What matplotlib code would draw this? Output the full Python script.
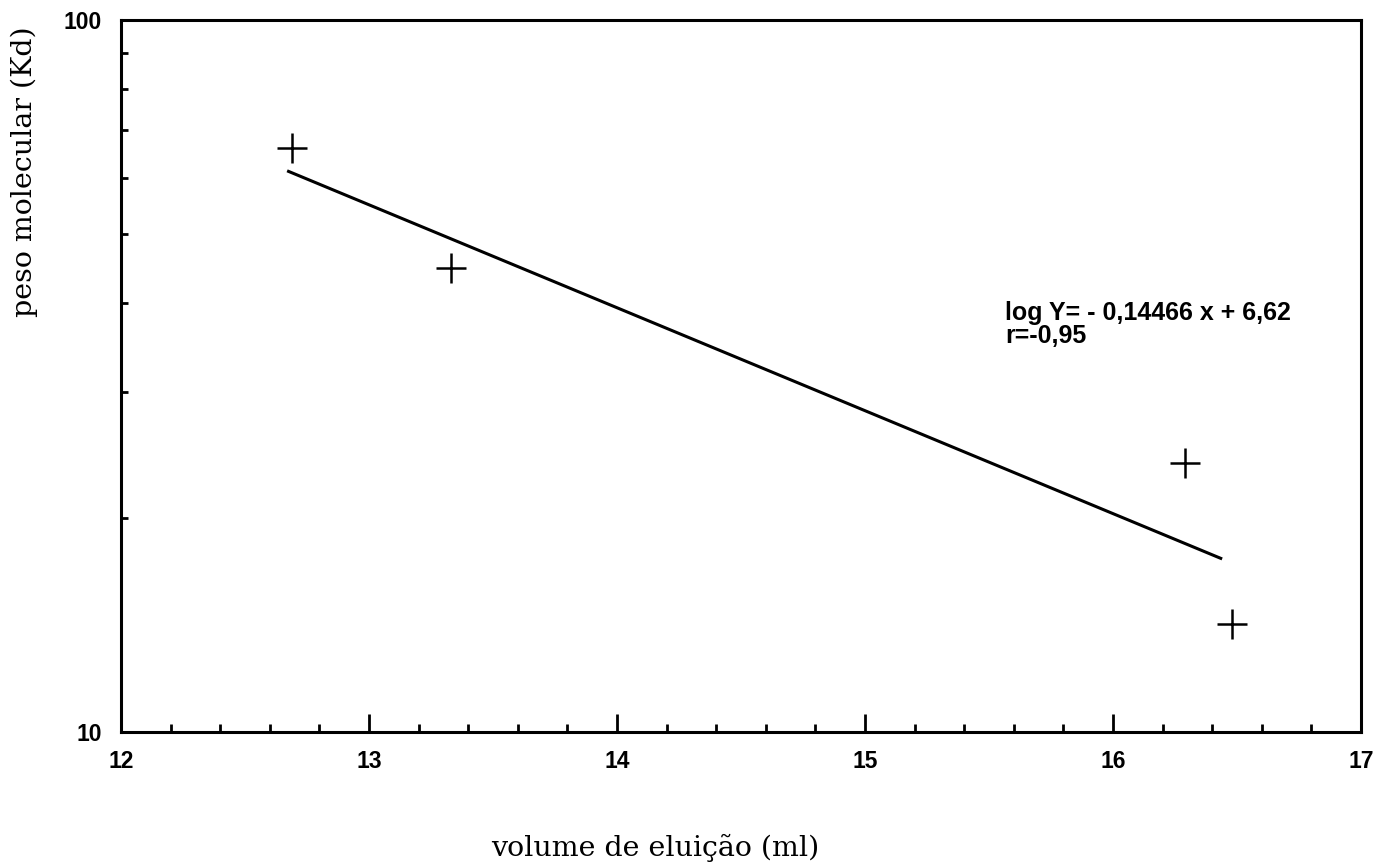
import numpy as np
import matplotlib
matplotlib.use("Agg")
import matplotlib.pyplot as plt
from matplotlib.ticker import FixedLocator, NullFormatter, MultipleLocator

# calibration points (volume in ml, mass in Kd)
volume = [12.69, 13.33, 16.29, 16.48]
peso = [66.0, 44.8, 23.9, 14.2]

# endpoints of the fitted line as drawn
fit_x = [12.67, 16.44]
fit_y = [61.4, 17.5]

x_ticks = [12, 13, 14, 15, 16, 17]
y_ticks = [10, 100]
y_minor = [20, 30, 40, 50, 60, 70, 80, 90]

eq_text = "log Y= - 0,14466 x + 6,62\nr=-0,95"

fig = plt.figure(figsize=(13.84, 8.65), dpi=100)
ax = fig.add_axes([0.0874, 0.1538, 0.8960, 0.8231])

ax.plot(fit_x, fit_y, color="black", lw=2.2, solid_capstyle="butt")
ax.plot(volume, peso, ls="none", marker="+", ms=21, mew=1.8, color="black")

ax.set_yscale("log")
ax.set_xlim(12, 17)
ax.set_ylim(10, 100)

for s in ax.spines.values():
    s.set_linewidth(2.2)

tick_font = dict(family="Liberation Sans", weight="bold", size=16.5)
ax.xaxis.set_major_locator(FixedLocator(x_ticks))
ax.xaxis.set_minor_locator(MultipleLocator(0.2))
ax.set_xticklabels([str(v) for v in x_ticks], **tick_font)
ax.yaxis.set_major_locator(FixedLocator(y_ticks))
ax.yaxis.set_minor_locator(FixedLocator(y_minor))
ax.yaxis.set_minor_formatter(NullFormatter())
ax.set_yticklabels([str(v) for v in y_ticks], **tick_font)

ax.tick_params(axis="x", which="major", direction="in", length=13, width=2, pad=13)
ax.tick_params(axis="x", which="minor", direction="in", length=6, width=2)
ax.tick_params(axis="y", which="major", direction="in", length=0, pad=14)
ax.tick_params(axis="y", which="minor", direction="in", length=5, width=2)

# equation block sits to the right of the fit line
ax.text(15.565, 40.3, eq_text, fontsize=18, fontfamily="Liberation Sans",
        fontweight="bold", va="top", ha="left", linespacing=0.95)

fig.text(0.355, 0.004, "volume de eluição (ml)", fontfamily="DejaVu Serif",
         fontsize=20.5, ha="left", va="bottom")
fig.text(0.008, 0.802, "peso molecular (Kd)", fontfamily="DejaVu Serif",
         fontsize=20.5, rotation=90, ha="left", va="center")

fig.savefig("out.png", dpi=100)
